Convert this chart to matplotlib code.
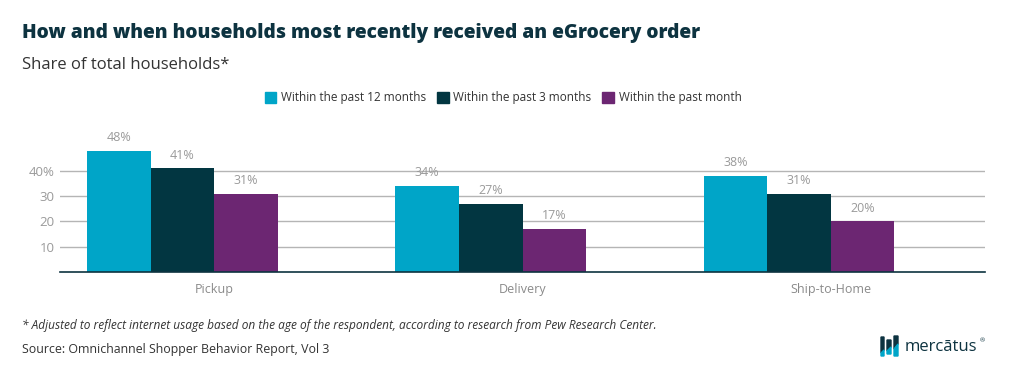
import matplotlib
matplotlib.use("Agg")
import matplotlib.pyplot as plt
from matplotlib.patches import Rectangle, Polygon
import numpy as np

categories = ["Pickup", "Delivery", "Ship-to-Home"]
series_names = ["Within the past 12 months", "Within the past 3 months", "Within the past month"]
past_12_months = [48, 34, 38]
past_3_months = [41, 27, 31]
past_month = [31, 17, 20]
ytick_values = [10, 20, 30, 40]
ytick_labels = ["10", "20", "30", "40%"]

colors = ["#00a5c8", "#023641", "#6c2672"]
title_color = "#0d3340"
grey = "#9a9a9a"

plt.rcParams['font.family'] = ['Open Sans', 'DejaVu Sans']

W, H = 1015, 384
fig = plt.figure(figsize=(W / 100, H / 100), dpi=100)
ax = fig.add_axes([60 / W, 1 - 272 / H, 925 / W, (272 - 133) / H])

x = np.arange(len(categories))
w = 0.206
offsets = [-1.5 * w, -0.5 * w, 0.5 * w]
for vals, off, c in zip([past_12_months, past_3_months, past_month], offsets, colors):
    bars = ax.bar(x + off, vals, width=w, color=c, zorder=3)
    for b, v in zip(bars, vals):
        ax.text(b.get_x() + b.get_width() / 2, v + 5.2, f"{v}%", ha="center", va="center",
                fontsize=9, color=grey)

ax.set_xlim(-0.5, 2.5)
ax.set_ylim(0, 55)
ax.set_yticks(ytick_values)
ax.set_yticklabels(ytick_labels, fontsize=9.5, color=grey)
ax.set_xticks(x)
ax.set_xticklabels(categories, fontsize=9, color="#8a8a8a")
ax.tick_params(axis="both", length=0)
ax.tick_params(axis="x", pad=8)
ax.tick_params(axis="y", pad=4)
ax.grid(axis="y", color="#b5b5b5", linewidth=1, zorder=0)
for s in ["top", "right", "left"]:
    ax.spines[s].set_visible(False)
ax.spines["bottom"].set_color("#0d3340")
ax.spines["bottom"].set_linewidth(1.2)
ax.spines["bottom"].set_zorder(4)

fig.text(22 / W, 1 - 33 / H, "How and when households most recently received an eGrocery order",
         fontsize=13.8, fontweight="heavy", color=title_color, va="center", ha="left")
fig.text(22 / W, 1 - 65 / H, "Share of total households*", fontsize=12, color="#333333",
         va="center", ha="left")

# legend
handles = [Rectangle((0, 0), 1, 1, color=c) for c in colors]
fig.legend(handles, series_names, loc="center", bbox_to_anchor=(503 / W, 1 - 98 / H),
           ncol=3, frameon=False, fontsize=8.5, handlelength=1.0, handleheight=1.0,
           handletextpad=0.4, columnspacing=0.9, labelcolor="#333333")

fig.text(22 / W, 1 - 325 / H,
         "* Adjusted to reflect internet usage based on the age of the respondent, according to research from Pew Research Center.",
         fontsize=8.6, style="italic", color="#333333", va="center", ha="left")
fig.text(22 / W, 1 - 350 / H, "Source: Omnichannel Shopper Behavior Report, Vol 3",
         fontsize=8.9, color="#333333", va="center", ha="left")

# logo (three split bars)
def px(xp, yp):
    return (xp / W, 1 - yp / H)

logo = [  # x0, x1, top, split_left, split_right, bottom
    (881, 884, 337, 353, 350, 356),
    (887, 891, 340, 351, 347, 354),
    (894, 898, 336, 349, 344, 356),
]
for x0, x1, top, sl, sr, bot in logo:
    fig.patches.append(Polygon([px(x0, top), px(x1, top), px(x1, sr), px(x0, sl)],
                               closed=True, transform=fig.transFigure, color="#0d3340"))
    fig.patches.append(Polygon([px(x0, sl), px(x1, sr), px(x1, bot), px(x0, bot)],
                               closed=True, transform=fig.transFigure, color="#00a5c8"))
fig.text(905 / W, 1 - 347 / H, "mercātus", fontsize=12, color="#0d3340", va="center", ha="left")
fig.text(980 / W, 1 - 341 / H, "®", fontsize=4.5, color="#0d3340", va="center", ha="left")

fig.savefig("out.png", dpi=100)
